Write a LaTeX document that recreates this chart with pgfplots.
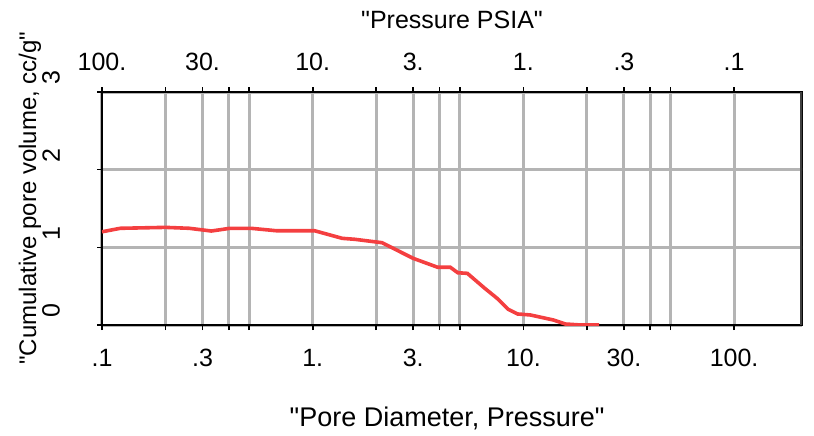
\documentclass[border=0pt]{standalone}
\usepackage{fontspec}
\setmainfont{Liberation Sans}
\usepackage{pgfplots}
\pgfplotsset{compat=1.18}
\definecolor{curvered}{HTML}{F43F40}
\definecolor{gridgray}{HTML}{B4B4B4}
\newcommand{\q}{\textquotedbl}

\begin{document}
\begin{tikzpicture}
\begin{axis}[
  scale only axis, width=350bp, height=116.5bp,
  at={(0,0)}, anchor=south west,
  xmode=log, xmin=0.1, xmax=210,
  ymin=0, ymax=3,
  tick label style={font=\fontsize{12.5bp}{14bp}\selectfont},
  xtick={0.1,0.2,0.3,0.4,0.5,1,2,3,4,5,10,20,30,40,50,100},
  xticklabels={.1,,.3,,,1.,,3.,,,10.,,30.,,,100.},
  minor xtick={},
  ytick={0,1,2,3},
  yticklabels={0,1,2,3},
  tick align=outside,
  major tick length=2.5bp,
  tick style={black, line width=0.8bp},
  ytick pos=left, yticklabel pos=left,
  xtick pos=both, xticklabel pos=bottom,
  xmajorgrids=true, ymajorgrids=true,
  major grid style={gridgray, line width=1.5bp},
  axis line style={black, line width=1.2bp},
  yticklabel style={rotate=90, anchor=south west},
  yticklabel shift=15bp,
  xticklabel shift=6bp,
  xlabel={\q Pore Diameter, Pressure\q},
  xlabel style={font=\fontsize{13.5bp}{16bp}\selectfont,
    at={(axis description cs:0.493,-0.399)}, anchor=center},
  ylabel={\q Cumulative pore volume, cc/g\q},
  ylabel style={font=\fontsize{12bp}{14bp}\selectfont,
    at={(axis description cs:-0.103,0.545)}, anchor=center},
]
\addplot[curvered, line width=1.8bp] coordinates {
  (0.1,1.20) (0.122,1.245) (0.2,1.257) (0.26,1.245) (0.33,1.21)
  (0.405,1.245) (0.51,1.245) (0.67,1.214) (1.02,1.214) (1.38,1.116)
  (1.59,1.103) (2.13,1.06) (3.0,0.858) (3.92,0.743) (4.5,0.743)
  (4.88,0.673) (5.42,0.665) (6.56,0.472) (7.5,0.344) (8.47,0.202)
  (9.38,0.142) (10.8,0.129) (13.9,0.064) (15.8,0.013) (18.7,0.0)
  (22.9,0.0)
};
% heavy right border with its outward ticks
\draw[black!75, line width=2bp] (rel axis cs:1,0) -- (rel axis cs:1,1);
\draw[black!75, line width=1.2bp] (axis cs:210,1) -- ++(6bp,0);
\draw[black!75, line width=1.2bp] (axis cs:210,2) -- ++(6bp,0);
\end{axis}
% top scale: pressure, reversed against diameter
\begin{axis}[
  scale only axis, width=350bp, height=116.5bp,
  at={(0,0)}, anchor=south west,
  xmode=log, xmin=0.1, xmax=210,
  ymin=0, ymax=3,
  tick label style={font=\fontsize{12.5bp}{14bp}\selectfont},
  axis x line*=top, axis y line=none,
  axis line style={draw=none},
  xtick={0.1,0.3,1,3,10,30,100},
  xticklabels={100.,30.,10.,3.,1.,.3,.1},
  minor xtick={},
  major tick length=0pt,
  xticklabel shift=7bp,
  xlabel={\q Pressure PSIA\q},
  xlabel style={font=\fontsize{12.5bp}{15bp}\selectfont,
    at={(axis description cs:0.5,1.309)}, anchor=center},
]
\end{axis}
\pgfresetboundingbox
\useasboundingbox (-51bp,-55.5bp) rectangle (356bp,162.5bp);
\end{tikzpicture}
\end{document}
